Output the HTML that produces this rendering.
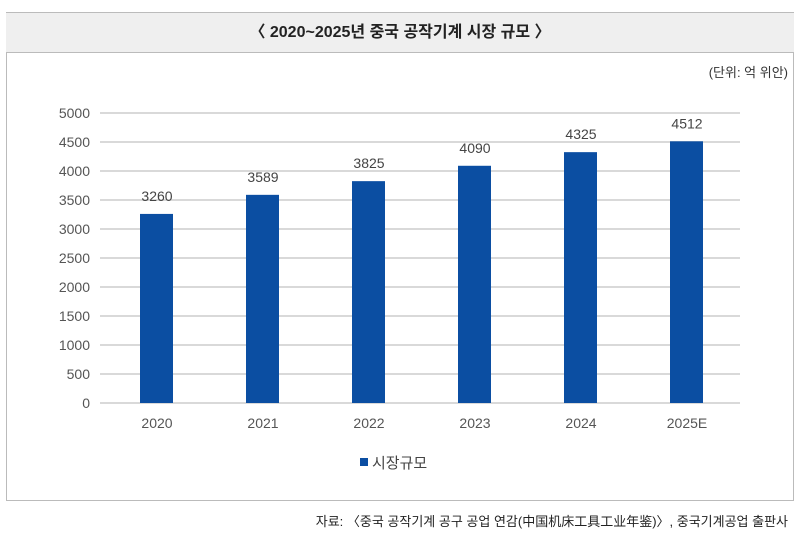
<!DOCTYPE html>
<html><head><meta charset="utf-8"><style>
body{margin:0;width:800px;height:536px;background:#fff;font-family:"Liberation Sans","Noto Sans CJK KR",sans-serif;position:relative;overflow:hidden}
.t{position:absolute}
</style></head><body>
<div class="t" style="left:6px;top:12px;width:788px;height:39px;background:#efefef;border-top:1px solid #bbb;border-bottom:1px solid #bbb;text-align:center;line-height:39px;font-size:16px;font-weight:bold;color:#222">〈 2020~2025년 중국 공작기계 시장 규모 〉</div>
<div class="t" style="left:6px;top:52px;width:786px;height:448px;border:1px solid #bbb;border-top:none"></div>
<div class="t" style="right:12px;top:62px;font-size:13px;color:#333">(단위: 억 위안)</div>
<svg class="t" style="left:0;top:0" width="800" height="536" id="chart"></svg>
<div class="t" style="left:360px;top:452px;font-size:15px;color:#444"><span style="display:inline-block;width:8px;height:8px;background:#0b4ea2;margin-right:4px;vertical-align:2px"></span>시장규모</div>
<div class="t" style="right:12px;top:511px;font-size:13px;color:#222">자료: 〈중국 공작기계 공구 공업 연감(中国机床工具工业年鉴)〉, 중국기계공업 출판사</div>
<script>
const categories=["2020","2021","2022","2023","2024","2025E"];
const values=[3260,3589,3825,4090,4325,4512];
const ticks=[0,500,1000,1500,2000,2500,3000,3500,4000,4500,5000];
const svg=document.getElementById('chart');
const NS='http://www.w3.org/2000/svg';
const y=v=>403-v*0.058;
const x=i=>157+i*106;
function mk(t,a){const e=document.createElementNS(NS,t);for(const k in a)e.setAttribute(k,a[k]);svg.appendChild(e);return e;}
ticks.forEach(v=>{
 const l=mk('line',{x1:100,x2:740,y1:y(v),y2:y(v),stroke:'#d9d9d9','stroke-width':2});
 
 
 const t=mk('text',{x:90,y:y(v)+5,'text-anchor':'end','font-size':14,fill:'#555','font-family':'Liberation Sans'});
 t.textContent=v;
 
 
});
categories.forEach((c,i)=>{
 const b=mk('rect',{x:x(i)-17,y:y(values[i]),width:33,height:403-y(values[i]),fill:'#0b4ea2'});
 
 
 const v=mk('text',{x:x(i),y:y(values[i])-13,'text-anchor':'middle','font-size':14,fill:'#444','font-family':'Liberation Sans'});
 v.textContent=values[i];
 
 
 const t=mk('text',{x:x(i),y:428,'text-anchor':'middle','font-size':14,fill:'#555','font-family':'Liberation Sans'});
 t.textContent=c;
 
 
});
</script>
</body></html>
